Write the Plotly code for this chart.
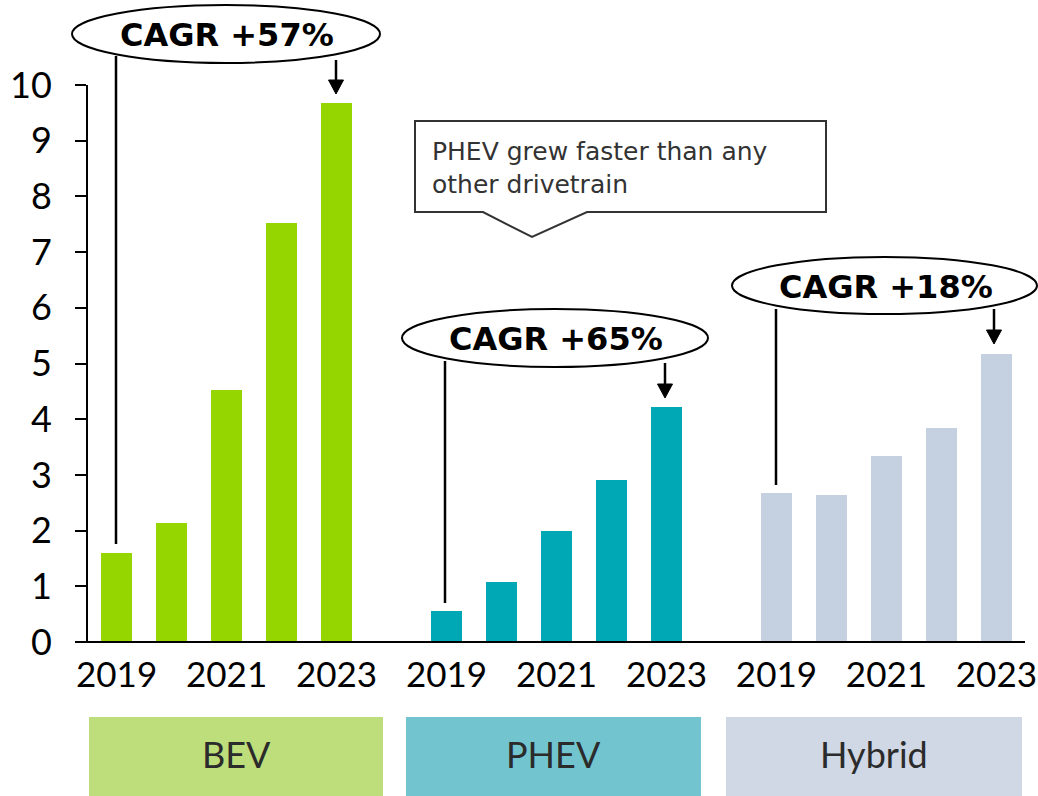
import plotly.graph_objects as go

# ---------------- data ----------------
years = ["2019", "2020", "2021", "2022", "2023"]
drivetrains = ["BEV", "PHEV", "Hybrid"]
bev = [1.60, 2.14, 4.52, 7.52, 9.68]
phev = [0.56, 1.08, 2.00, 2.91, 4.22]
hybrid = [2.68, 2.64, 3.34, 3.84, 5.17]
cagr_labels = ["CAGR +57%", "CAGR +65%", "CAGR +18%"]
tick_years = ["2019", "2021", "2023"]
callout_text = "PHEV grew faster than any<br>other drivetrain"

bar_colors = ["#95D600", "#00A8B5", "#C5D0E1"]
box_colors = ["#BEDE7B", "#72C5CF", "#D0D8E5"]

series = [bev, phev, hybrid]
FONT = "Lato"
FONT2 = "DejaVu Sans"

# ---------------- layout geometry (screen pixels) ----------------
W_FIG, H_FIG = 1038, 796
L, T = 88, 85                # plot area top-left on screen
PW, PH = 937, 557


def pxx(x):
    return (x - L) / PW


def pxy(y):
    return (T + PH - y) / PH


fig = go.Figure()
GAP = len(years) + 1
for g, (name, vals) in enumerate(zip(drivetrains, series)):
    xs = [g * GAP + i for i in range(len(years))]
    fig.add_trace(go.Bar(
        x=xs, y=vals, name=name, width=0.56,
        marker=dict(color=bar_colors[g], line=dict(width=0)),
        hovertext=[f"{name} {y}" for y in years],
    ))

tickvals, ticktext = [], []
for g in range(len(drivetrains)):
    for i, yr in enumerate(years):
        if yr in tick_years:
            tickvals.append(g * GAP + i)
            ticktext.append(yr)

shapes = []
annotations = []

# x axis line (extends left under the y tick)
shapes.append(dict(type="line", xref="paper", yref="paper",
                   x0=pxx(77), x1=pxx(1025), y0=0, y1=0,
                   line=dict(color="black", width=2)))

# category boxes
boxes = [(89, 383), (406, 701), (726, 1022)]
for (x0, x1), col, name in zip(boxes, box_colors, drivetrains):
    shapes.append(dict(type="rect", xref="paper", yref="paper",
                       x0=pxx(x0), x1=pxx(x1), y0=pxy(717), y1=pxy(800),
                       fillcolor=col, line=dict(width=0), layer="below"))
    annotations.append(dict(xref="paper", yref="paper",
                            x=pxx((x0 + x1) / 2), y=pxy(754),
                            text=name, showarrow=False,
                            font=dict(family=FONT, size=36, color="#2b2b2b"),
                            xanchor="center", yanchor="middle"))

# CAGR ellipses with connector lines and arrows
ellipses = [
    # (x0, x1, y0, y1, left line x, left line y0, y1, arrow x, arrow y0, tip y)
    (72, 380, 5, 63, 116, 56, 544, 336, 60, 94),
    (402, 708, 309, 367, 445, 361, 603, 665, 363, 398),
    (732, 1037, 257, 314, 776, 309, 485, 994, 309, 344),
]
for (x0, x1, y0, y1, lx, ly0, ly1, ax, ay0, tip), lab in zip(ellipses, cagr_labels):
    shapes.append(dict(type="line", xref="paper", yref="paper",
                       x0=pxx(lx), x1=pxx(lx), y0=pxy(ly0), y1=pxy(ly1),
                       line=dict(color="black", width=2.5)))
    shapes.append(dict(type="line", xref="paper", yref="paper",
                       x0=pxx(ax), x1=pxx(ax), y0=pxy(ay0), y1=pxy(tip - 10),
                       line=dict(color="black", width=2.5)))
    shapes.append(dict(type="path", xref="paper", yref="paper",
                       path=(f"M {pxx(ax - 7.5)},{pxy(tip - 14)} "
                             f"L {pxx(ax + 7.5)},{pxy(tip - 14)} "
                             f"L {pxx(ax)},{pxy(tip)} Z"),
                       fillcolor="black", line=dict(color="black", width=1)))
    shapes.append(dict(type="circle", xref="paper", yref="paper",
                       x0=pxx(x0), x1=pxx(x1), y0=pxy(y1), y1=pxy(y0),
                       fillcolor="white", line=dict(color="black", width=2)))
    annotations.append(dict(xref="paper", yref="paper",
                            x=pxx((x0 + x1) / 2 + 1), y=pxy((y0 + y1) / 2 + 1),
                            text=f"<b>{lab}</b>", showarrow=False,
                            font=dict(family=FONT2, size=32, color="black"),
                            xanchor="center", yanchor="middle"))

# callout box with pointer
cx0, cx1, cy0, cy1 = 415, 826, 121, 212
path = (f"M {pxx(cx0)},{pxy(cy0)} L {pxx(cx1)},{pxy(cy0)} "
        f"L {pxx(cx1)},{pxy(cy1)} L {pxx(587)},{pxy(cy1)} "
        f"L {pxx(532)},{pxy(237)} L {pxx(483)},{pxy(cy1)} "
        f"L {pxx(cx0)},{pxy(cy1)} Z")
shapes.append(dict(type="path", xref="paper", yref="paper", path=path,
                   fillcolor="white", line=dict(color="#333333", width=2)))
annotations.append(dict(xref="paper", yref="paper", x=pxx(430), y=pxy(168),
                        text=callout_text, showarrow=False, align="left",
                        font=dict(family=FONT2, size=25, color="#333333"),
                        xanchor="left", yanchor="middle"))

fig.update_layout(
    width=W_FIG, height=H_FIG,
    margin=dict(l=L, r=W_FIG - L - PW, t=T, b=H_FIG - T - PH, pad=0),
    paper_bgcolor="white", plot_bgcolor="white",
    showlegend=False, bargap=0,
    font=dict(family=FONT, color="black"),
    shapes=shapes, annotations=annotations,
    xaxis=dict(range=[-0.52, 16.52], tickvals=tickvals, ticktext=ticktext,
               showgrid=False, zeroline=False, showline=False, ticks="",
               tickfont=dict(family=FONT, size=35, color="black"),
               ticklabelstandoff=9, ticklabeloverflow="allow",
               fixedrange=True, automargin=False),
    yaxis=dict(range=[0, 10], dtick=1, showgrid=False, zeroline=False,
               showline=True, linecolor="black", linewidth=2,
               ticks="outside", ticklen=11, tickwidth=2, tickcolor="black",
               tickfont=dict(family=FONT, size=36, color="black"),
               ticklabelstandoff=16, ticklabeloverflow="allow",
               fixedrange=True, automargin=False),
)

fig.write_html(
    "out.html",
    config={"displayModeBar": False},
    post_script="document.body.style.margin='0';document.body.style.overflow='hidden';",
)
